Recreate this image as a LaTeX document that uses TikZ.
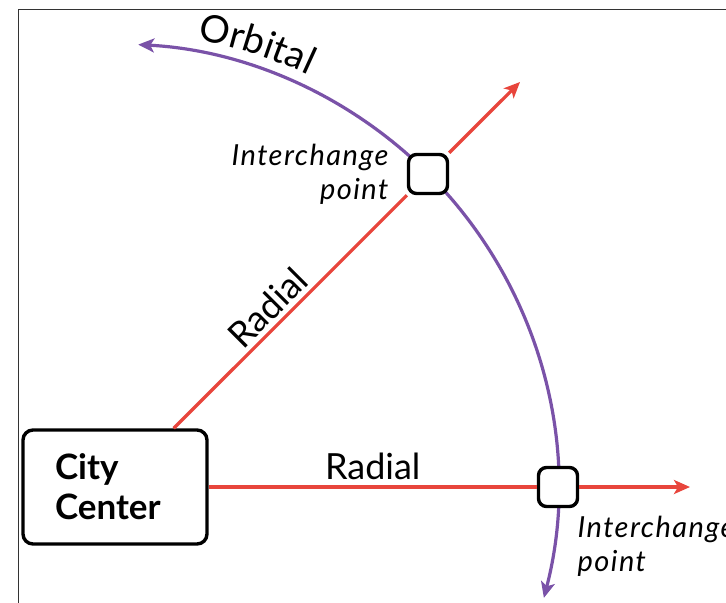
\documentclass[tikz,border=0pt]{standalone}
\usepackage{fontspec}
\setmainfont{Lato}
\usetikzlibrary{arrows.meta,positioning,decorations.text}
\definecolor{radialred}{HTML}{E8453C}
\definecolor{orbitpurple}{HTML}{7A52A8}
\definecolor{framegray}{HTML}{333333}
\newcommand{\orbitfont}{\fontsize{19}{19}\selectfont}

\begin{document}
\begin{tikzpicture}[x=0.5pt,y=0.5pt,
  citybox/.style={draw=black,rounded corners=5pt,line width=1.7pt,fill=white,minimum width=92pt,minimum height=57pt,text width=60pt,align=left,font=\fontsize{17.5}{20}\selectfont\bfseries},
  xferbox/.style={draw=black,rounded corners=4pt,line width=1.7pt,fill=white,minimum size=19.5pt,inner sep=0pt},
  radial/.style={line width=1.6pt,draw=radialred},
  radialarrow/.style={radial,-{Stealth[length=8pt,width=7pt,inset=2pt]}},
  orbital/.style={{Stealth[length=8pt,width=7pt,inset=2pt]}-{Stealth[length=8pt,width=7pt,inset=2pt]},line width=1.6pt,draw=orbitpurple},
  note/.style={font=\fontsize{14.5}{17}\selectfont\itshape\addfontfeatures{LetterSpace=5},inner sep=0pt},
  linelabel/.style={font=\fontsize{18}{18}\selectfont,inner sep=2pt},
  frame/.style={draw=framegray,line width=0.5pt}
]
\useasboundingbox (0,0) rectangle (726,602);
\clip (0,0) rectangle (726,602);
\draw[frame] (18.7,-20) -- (18.7,592.5) -- (760,592.5);
\coordinate (hub) at (115,115);
\draw[orbital] ([shift={(-14.5:443)}]hub) arc[start angle=-14.5,end angle=87,radius=443];
\path[decorate,decoration={text along path,text={|\orbitfont|Orbital}}]
  ([shift={(79.5:455)}]hub) arc[start angle=79.5,end angle=58,radius=455];
\node[citybox] (city) at (hub) {City\\Center};
\node[xferbox] (ic1) at (428,428) {};
\node[xferbox] (ic2) at (558,115) {};
\coordinate (diagend) at (520,520);
\coordinate (eastend) at (690,115);
\draw[radial] (city) -- node[linelabel,pos=0.46,sloped,above] {Radial} (ic1);
\draw[radialarrow] (ic1) -- (diagend);
\draw[radial] (city) -- node[linelabel,above=1pt] {Radial} (ic2);
\draw[radialarrow] (ic2) -- (eastend);
\node[note,align=right,left=9pt of ic1] (tag1) {Interchange\\point};
\node[note,align=left,below right=4pt and -1pt of ic2] (tag2) {Interchange\\point};
\end{tikzpicture}
\end{document}
